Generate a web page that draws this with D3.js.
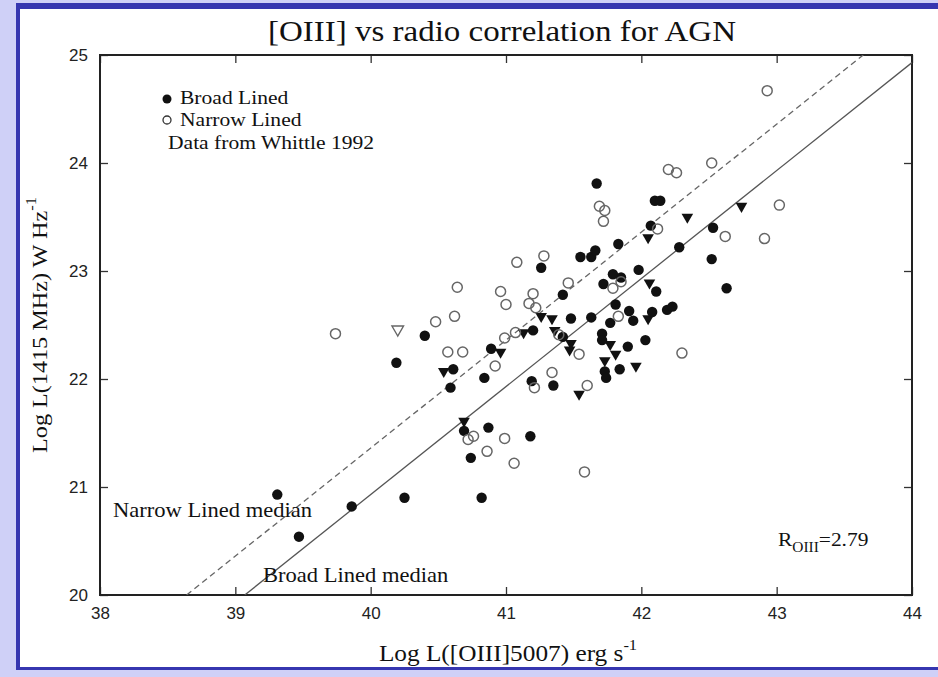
<!DOCTYPE html>
<html>
<head>
<meta charset="utf-8">
<script src="https://cdn.jsdelivr.net/npm/d3@7/dist/d3.min.js"></script>
<style>
  html, body { margin: 0; padding: 0; background: #cfd0f7; }
  svg { display: block; }
  .serif { font-family: "Liberation Serif", "Times New Roman", serif; fill: #111; }
  .tick text { font-family: "Liberation Sans", Arial, sans-serif; font-size: 17px; fill: #222; }
</style>
</head>
<body>
<div id="chart"></div>
<script>
// [OIII] vs radio luminosity, Whittle 1992 sample

// axis ticks
const xTicks = [38, 39, 40, 41, 42, 43, 44];
const yTicks = [20, 21, 22, 23, 24, 25];

// broad lined objects (filled circles): [log L(OIII), log L(1415MHz)]
const broadX = [39.31, 39.47, 39.86, 40.25, 40.82, 40.74, 41.67, 41.83, 41.55, 41.63,
                41.66, 41.26, 41.42, 41.79, 41.72, 41.81, 41.63, 41.48, 41.77, 41.71,
                41.20, 40.40, 41.42, 41.91, 41.94, 42.08, 42.19, 42.23, 40.19, 40.89,
                41.71, 41.90, 42.03, 41.84, 41.73, 41.74, 41.35, 41.19, 40.61, 40.84,
                40.59, 40.69, 40.87, 41.18, 42.10, 42.14, 42.07, 42.53, 42.28, 42.52,
                42.63, 41.98, 41.85, 42.11];
const broadY = [20.93, 20.54, 20.82, 20.90, 20.90, 21.27, 23.81, 23.25, 23.13, 23.13,
                23.19, 23.03, 22.78, 22.97, 22.88, 22.69, 22.57, 22.56, 22.52, 22.42,
                22.45, 22.40, 22.39, 22.63, 22.54, 22.62, 22.64, 22.67, 22.15, 22.28,
                22.36, 22.30, 22.36, 22.09, 22.07, 22.01, 21.94, 21.98, 22.09, 22.01,
                21.92, 21.52, 21.55, 21.47, 23.65, 23.65, 23.42, 23.40, 23.22, 23.11,
                22.84, 23.01, 22.94, 22.81];

// narrow lined objects (open circles)
const narrowX = [40.86, 41.06, 41.69, 41.73, 41.72, 41.08, 41.28, 41.46, 41.79, 40.64,
                 40.96, 41.20, 41.00, 41.17, 41.22, 40.62, 40.48, 39.74, 41.07, 40.99,
                 41.83, 40.57, 40.68, 41.39, 41.54, 42.30, 41.34, 41.21, 40.92, 41.60,
                 40.72, 40.76, 40.99, 41.58, 42.20, 42.26, 42.52, 43.02, 42.12, 42.62,
                 42.91, 41.85, 42.93];
const narrowY = [21.33, 21.22, 23.60, 23.56, 23.46, 23.08, 23.14, 22.89, 22.84, 22.85,
                 22.81, 22.79, 22.69, 22.70, 22.66, 22.58, 22.53, 22.42, 22.43, 22.38,
                 22.58, 22.25, 22.25, 22.41, 22.23, 22.24, 22.06, 21.92, 22.12, 21.94,
                 21.44, 21.47, 21.45, 21.14, 23.94, 23.91, 24.00, 23.61, 23.39, 23.32,
                 23.30, 22.90, 24.67];

// radio upper limits (filled triangles)
const limitX = [41.26, 41.34, 41.36, 41.13, 42.05, 40.96, 41.48, 41.47, 41.77, 41.81,
                41.73, 41.96, 40.54, 41.54, 40.69, 42.34, 42.74, 42.05, 42.06];
const limitY = [22.58, 22.56, 22.45, 22.43, 22.56, 22.25, 22.33, 22.27, 22.32, 22.23,
                22.17, 22.12, 22.07, 21.86, 21.61, 23.50, 23.60, 23.31, 22.89];

// narrow lined upper limit (open triangle)
const openLimitX = [40.20];
const openLimitY = [22.46];

// median relations, end points in data units
const broadMedian = [[39.07, 20], [44, 24.93]];
const narrowMedian = [[38.64, 20], [43.64, 25]];

const width = 938, height = 677;
const margin = { top: 55, right: 26, bottom: 82, left: 100 };
const plotW = width - margin.left - margin.right;
const plotH = height - margin.top - margin.bottom;
const stretch = 1.1;   // the original lettering is a bit wide

const svg = d3.select('#chart')
  .append('svg')
    .attr('width', width)
    .attr('height', height);

// page frame
svg.append('rect')
    .attr('width', width).attr('height', height)
    .attr('fill', '#cfd0f7');
svg.append('rect')
    .attr('x', 16).attr('y', 3)
    .attr('width', width - 16).attr('height', 667)
    .attr('fill', '#3636b0');
svg.append('rect')
    .attr('x', 20).attr('y', 9)
    .attr('width', width - 20).attr('height', 658)
    .attr('fill', '#fff');

const g = svg.append('g')
    .attr('transform', `translate(${margin.left},${margin.top})`);

const x = d3.scaleLinear().domain([38, 44]).range([0, plotW]);
const y = d3.scaleLinear().domain([20, 25]).range([plotH, 0]);

// axes, ticks pointing inward
g.append('g')
    .attr('transform', `translate(0,${plotH})`)
    .call(d3.axisBottom(x).tickValues(xTicks).tickFormat(d3.format('d'))
      .tickSize(-8).tickSizeOuter(0).tickPadding(12));
g.append('g')
    .call(d3.axisLeft(y).tickValues(yTicks).tickFormat(d3.format('d'))
      .tickSize(-8).tickSizeOuter(0).tickPadding(12));
g.append('g')
    .call(d3.axisTop(x).tickValues(xTicks).tickSize(-8).tickSizeOuter(0).tickFormat(''));
g.append('g')
    .attr('transform', `translate(${plotW},0)`)
    .call(d3.axisRight(y).tickValues(yTicks).tickSize(-8).tickSizeOuter(0).tickFormat(''));

g.selectAll('.domain').attr('stroke', 'none');
g.selectAll('.tick line').attr('stroke', '#333').attr('stroke-width', 1.3);

g.append('rect')
    .attr('width', plotW).attr('height', plotH)
    .attr('fill', 'none')
    .attr('stroke', '#222')
    .attr('stroke-width', 2);

// clip for the median lines
g.append('clipPath').attr('id', 'plotClip')
  .append('rect').attr('width', plotW).attr('height', plotH);

const line = d3.line()
    .x(d => x(d[0]))
    .y(d => y(d[1]));

g.append('path')
    .datum(narrowMedian)
    .attr('d', line)
    .attr('clip-path', 'url(#plotClip)')
    .attr('fill', 'none')
    .attr('stroke', '#666')
    .attr('stroke-width', 1.3)
    .attr('stroke-dasharray', '6,4');

g.append('path')
    .datum(broadMedian)
    .attr('d', line)
    .attr('clip-path', 'url(#plotClip)')
    .attr('fill', 'none')
    .attr('stroke', '#555')
    .attr('stroke-width', 1.3);

// points
const tri = d3.symbol().type(d3.symbolTriangle).size(58);

g.selectAll('.lim')
  .data(limitX)
  .enter()
  .append('path')
    .attr('class', 'lim')
    .attr('d', tri)
    .attr('transform', (d, i) => `translate(${x(d)},${y(limitY[i])}) rotate(180)`)
    .attr('fill', '#111');

g.selectAll('.olim')
  .data(openLimitX)
  .enter()
  .append('path')
    .attr('class', 'olim')
    .attr('d', tri)
    .attr('transform', (d, i) => `translate(${x(d)},${y(openLimitY[i])}) rotate(180)`)
    .attr('fill', 'none')
    .attr('stroke', '#666')
    .attr('stroke-width', 1.4);

g.selectAll('.broad')
  .data(broadX)
  .enter()
  .append('circle')
    .attr('class', 'broad')
    .attr('cx', d => x(d))
    .attr('cy', (d, i) => y(broadY[i]))
    .attr('r', 5.2)
    .attr('fill', '#111');

g.selectAll('.narrow')
  .data(narrowX)
  .enter()
  .append('circle')
    .attr('class', 'narrow')
    .attr('cx', d => x(d))
    .attr('cy', (d, i) => y(narrowY[i]))
    .attr('r', 5)
    .attr('fill', 'none')
    .attr('stroke', '#666')
    .attr('stroke-width', 1.5);

// serif label, widened a little along its own direction
function label(parent, tx, ty, size, rot) {
  return parent.append('text')
      .attr('class', 'serif')
      .attr('transform', `translate(${tx},${ty})${rot ? ' rotate(' + rot + ')' : ''} scale(${stretch},1)`)
      .style('font-size', size + 'px');
}

// legend
g.append('circle')
    .attr('cx', 67).attr('cy', 44).attr('r', 4.5)
    .attr('fill', '#111');
g.append('circle')
    .attr('cx', 67).attr('cy', 65).attr('r', 4)
    .attr('fill', 'none').attr('stroke', '#333').attr('stroke-width', 1.3);
label(g, 80, 49, 19.6).text('Broad Lined');
label(g, 80, 71, 19.6).text('Narrow Lined');
label(g, 68, 94, 19.6).text('Data from Whittle 1992');

// annotations
label(g, 13, 462, 20.5).text('Narrow Lined median');
label(g, 163, 527, 20.5).text('Broad Lined median');

const rText = label(g, 678, 491, 19.5);
rText.append('tspan').text('R');
rText.append('tspan').attr('dy', 6).style('font-size', '14px').text('OIII');
rText.append('tspan').attr('dy', -6).text('=2.79');

// title and axis labels
label(svg, 502, 41, 30)
    .attr('text-anchor', 'middle')
    .text('[OIII] vs radio correlation for AGN');

const xLabel = label(svg, 508, 661, 23)
    .attr('text-anchor', 'middle');
xLabel.append('tspan').text('Log L([OIII]5007) erg s');
xLabel.append('tspan').attr('dy', -11).style('font-size', '15px').text('-1');

const yLabel = label(svg, 47, margin.top + plotH / 2, 22, -90)
    .attr('text-anchor', 'middle');
yLabel.append('tspan').text('Log L(1415 MHz) W Hz');
yLabel.append('tspan').attr('dy', -11).style('font-size', '15px').text('-1');
</script>
</body>
</html>
